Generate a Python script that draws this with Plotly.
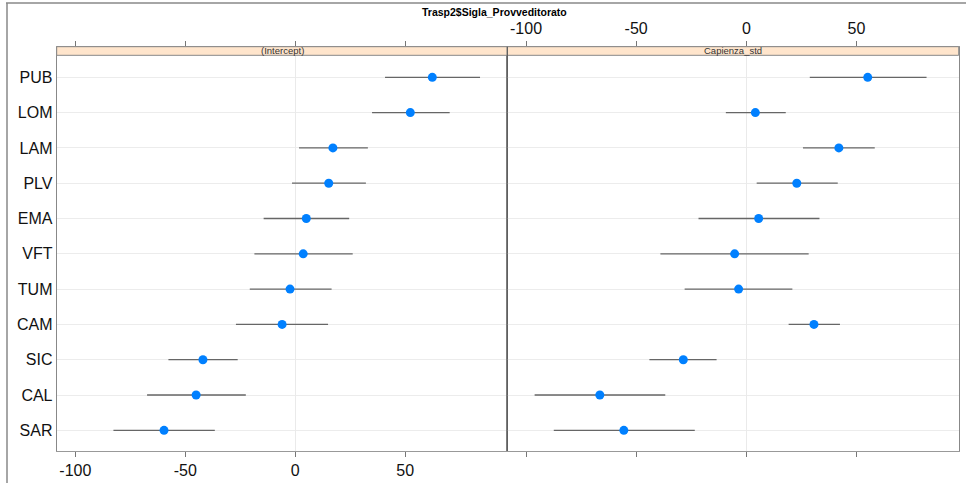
import plotly.graph_objects as go
from plotly.subplots import make_subplots

# Categories (bottom to top)
provveditorati = ["SAR", "CAL", "SIC", "CAM", "TUM", "VFT", "EMA", "PLV", "LAM", "LOM", "PUB"]

# (Intercept) panel
intercept_est = [-59.7, -45.1, -42.0, -6.0, -2.4, 3.6, 5.0, 15.2, 17.1, 52.3, 62.3]
intercept_lo = [-82.7, -67.4, -57.7, -27.0, -20.7, -18.6, -14.4, -1.5, 1.7, 34.9, 40.8]
intercept_hi = [-36.6, -22.5, -26.2, 14.9, 16.5, 26.1, 24.5, 32.1, 33.0, 70.2, 84.0]

# Capienza_std panel
capienza_est = [-55.6, -66.5, -28.6, 30.7, -3.5, -5.3, 5.6, 22.9, 42.0, 4.1, 55.1]
capienza_lo = [-87.4, -96.1, -44.0, 19.2, -28.0, -39.0, -21.7, 4.7, 25.7, -9.3, 28.8]
capienza_hi = [-23.4, -36.8, -13.5, 42.5, 20.9, 28.3, 33.2, 41.5, 58.3, 17.9, 81.8]

panel_titles = ["(Intercept)", "Capienza_std"]
tick_vals = [-100, -50, 0, 50]
tick_text = ["-100", "-50", "0", "50"]

W, H = 966, 483
def px_x(x):
    return x / W
def px_y(y):
    return (H - y) / H

x_left0, x_mid, x_right1 = 56.7, 507.3, 958.7
y_top_strip, y_bot_strip, y_bottom = 46.7, 55.3, 451.0

fig = make_subplots(rows=1, cols=2, shared_yaxes=False, horizontal_spacing=0)

series = [
    (intercept_est, intercept_lo, intercept_hi),
    (capienza_est, capienza_lo, capienza_hi),
]
for i, (est, lo, hi) in enumerate(series):
    fig.add_trace(
        go.Scatter(
            x=est,
            y=provveditorati,
            mode="markers",
            marker=dict(color="#0080FF", size=9, line=dict(width=0)),
            error_x=dict(
                type="data",
                symmetric=False,
                array=[h - e for h, e in zip(hi, est)],
                arrayminus=[e - l for e, l in zip(est, lo)],
                color="#666666",
                thickness=1.3,
                width=0,
            ),
            showlegend=False,
            hoverinfo="x+y",
        ),
        row=1, col=i + 1,
    )

font_family = "Liberation Sans, Arial, sans-serif"
xrange = [-108.5, 96.4]
yrange = [-0.586, 10.867]

common_x = dict(
    range=xrange,
    tickvals=tick_vals,
    ticktext=tick_text,
    showgrid=False,
    zeroline=True,
    zerolinecolor="#eaeaea",
    zerolinewidth=1,
    showline=True,
    linecolor="#999999",
    linewidth=1.2,
    mirror="ticks",
    ticks="outside",
    ticklen=5,
    tickcolor="#777777",
    tickfont=dict(size=16, family=font_family, color="#111111"),
    fixedrange=True,
)
fig.update_xaxes(common_x)
fig.update_xaxes(domain=[px_x(x_left0), px_x(x_mid)], side="bottom", row=1, col=1)
fig.update_xaxes(domain=[px_x(x_mid), px_x(x_right1)], side="top", row=1, col=2)

common_y = dict(
    type="category",
    categoryorder="array",
    categoryarray=provveditorati,
    range=yrange,
    domain=[px_y(y_bottom), px_y(y_top_strip)],
    showgrid=True,
    gridcolor="#ececec",
    gridwidth=1,
    showline=True,
    linecolor="#888888",
    linewidth=1,
    mirror=True,
    ticks="",
    fixedrange=True,
)
fig.update_yaxes(common_y)
fig.update_yaxes(tickfont=dict(size=16, family=font_family, color="#111111"), ticklabelstandoff=0, row=1, col=1)
fig.update_yaxes(showticklabels=False, row=1, col=2)

shapes = []
# Strips
for (a, b) in [(x_left0, x_mid), (x_mid, x_right1)]:
    shapes.append(dict(
        type="rect", xref="paper", yref="paper",
        x0=px_x(a), x1=px_x(b), y0=px_y(y_bot_strip), y1=px_y(y_top_strip),
        fillcolor="#FFE5CC", line=dict(color="#888888", width=1), layer="above",
    ))
# Divider between panels
shapes.append(dict(
    type="line", xref="paper", yref="paper",
    x0=px_x(x_mid), x1=px_x(x_mid), y0=px_y(y_bottom), y1=px_y(y_top_strip),
    line=dict(color="#555555", width=1), layer="above",
))
# Outer frame (top and left)
shapes.append(dict(type="line", xref="paper", yref="paper",
                   x0=px_x(6), x1=1, y0=px_y(3), y1=px_y(3),
                   line=dict(color="#888888", width=1.5)))
shapes.append(dict(type="line", xref="paper", yref="paper",
                   x0=px_x(7), x1=px_x(7), y0=0, y1=px_y(3),
                   line=dict(color="#888888", width=1.5)))
fig.update_layout(shapes=shapes)

annotations = [
    dict(text="<b>Trasp2$Sigla_Provveditorato</b>", xref="paper", yref="paper",
         x=px_x(494), y=px_y(12), showarrow=False, xanchor="center", yanchor="middle",
         font=dict(size=10.5, family=font_family, color="#000000")),
]
for (a, b), t in zip([(x_left0, x_mid), (x_mid, x_right1)], panel_titles):
    annotations.append(dict(
        text=t, xref="paper", yref="paper",
        x=px_x((a + b) / 2), y=px_y((y_top_strip + y_bot_strip) / 2),
        showarrow=False, xanchor="center", yanchor="middle",
        font=dict(size=9.5, family=font_family, color="#333333"),
    ))
fig.update_layout(annotations=annotations)

fig.update_layout(
    width=W, height=H,
    margin=dict(l=0, r=0, t=0, b=0),
    paper_bgcolor="white",
    plot_bgcolor="white",
    font=dict(family=font_family),
)

fig.write_html(
    "out.html",
    config={"displayModeBar": False},
    post_script="document.body.style.margin='0';document.body.style.overflow='hidden';",
)
